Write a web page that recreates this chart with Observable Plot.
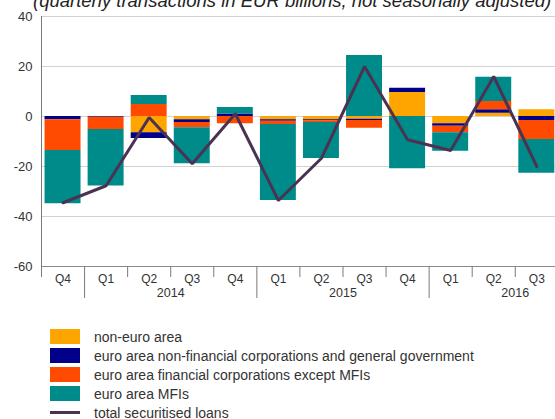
<!DOCTYPE html>
<html>
<head>
<meta charset="utf-8">
<script src="https://cdn.jsdelivr.net/npm/d3@7"></script>
<script src="https://cdn.jsdelivr.net/npm/@observablehq/plot@0.6"></script>
<style>
  html, body { margin: 0; padding: 0; background: #fff; overflow: hidden; }
  #wrap { position: relative; width: 555px; height: 419px; overflow: hidden; font-family: "Liberation Sans", Arial, Helvetica, sans-serif; }
  #chart { position: absolute; left: 0; top: 0; }
  #title { position: absolute; left: 33px; top: -8px; font-size: 18.5px; line-height: 18.5px; font-style: italic; color: #222; white-space: nowrap; }
  #legend { position: absolute; left: 50px; top: 327px; color: #333; font-size: 14px; }
  .row { display: flex; align-items: center; height: 19px; }
  .sw { width: 30px; height: 15px; margin-right: 14px; flex: none; }
  .ln { width: 30px; height: 3px; margin-right: 14px; flex: none; }
</style>
</head>
<body>
<div id="wrap">
  <div id="chart"></div>
  <div id="title">(quarterly transactions in EUR billions, not seasonally adjusted)</div>
  <div id="legend"></div>
</div>
<script>
// ---- data ----
const quarters = ["Q4","Q1","Q2","Q3","Q4","Q1","Q2","Q3","Q4","Q1","Q2","Q3"];
const years    = ["2013","2014","2014","2014","2014","2015","2015","2015","2015","2016","2016","2016"];
const yearLabels = ["2014","2015","2016"];
const series = [
  "non-euro area",
  "euro area non-financial corporations and general government",
  "euro area financial corporations except MFIs",
  "euro area MFIs"
];
const lineLabel = "total securitised loans";
const colors = ["#FFA500", "#000088", "#FF4B00", "#008B8B"];
const lineColor = "#4a3352";

const nonEuro = [0, 0, -6.5, -1.3, 0, -1.3, -1.3, -1.1, 9.6, -2.9, 1.3, 2.7];
const nfcGov  = [-1.3, -0.3, -2.3, -1.1, 1.0, -0.6, -0.4, -0.5, 1.7, -1.0, 1.4, -1.6];
const finCorp = [-12.3, -4.9, 4.8, -2.1, -2.9, -1.3, -0.7, -3.1, 0, -2.6, 3.3, -7.6];
const mfis    = [-21.3, -22.6, 3.6, -14.4, 2.6, -30.4, -14.4, 24.4, -20.9, -7.4, 9.7, -13.5];
const total   = [-34.5, -27.7, -0.4, -18.9, 1.1, -33.6, -16.7, 20.0, -9.3, -13.6, 16.0, -20.0];
const yTicks = [-60, -40, -20, 0, 20, 40];

// ---- derived table ----
const keys = quarters.map((q, i) => years[i] + q);
const rows = [];
[nonEuro, nfcGov, finCorp, mfis].forEach((arr, s) =>
  arr.forEach((v, i) => rows.push({key: keys[i], series: series[s], value: v})));

// layout
const x0 = 41, step = 43.07;
const xRange = [x0, x0 + step * keys.length];

const chart = Plot.plot({
  width: 555,
  height: 305,
  marginLeft: 41,
  marginRight: 0,
  marginTop: 16,
  marginBottom: 39,
  style: {fontFamily: "Liberation Sans, Arial, Helvetica, sans-serif", color: "#333", background: "transparent"},
  x: {type: "band", domain: keys, range: xRange, paddingInner: 0.165, paddingOuter: 0.0825, align: 0.5, round: false, axis: null},
  y: {domain: [-60, 40], range: [266, 16], axis: null},
  color: {domain: series, range: colors},
  marks: [
    Plot.gridY([-40, -20, 0, 20, 40], {stroke: "#d2d2d2", strokeOpacity: 1}),
    Plot.barY(rows, {x: "key", y: "value", fill: "series"}),
    Plot.ruleY([-60], {stroke: "#8a8a8a"}),
    // y axis line
    Plot.ruleX([keys[0]], {x: d => d, y1: 40, y2: -60, dx: -step / 2, insetBottom: -11, stroke: "#7a7a7a"}),
    // short ticks between quarters
    Plot.ruleX(keys.filter((k, i) => quarters[i] !== "Q1"), {x: d => d, y1: -60, y2: -60, dx: -step / 2, insetBottom: -11, stroke: "#7a7a7a"}),
    // long ticks at year starts
    Plot.ruleX(keys.filter((k, i) => quarters[i] === "Q1"), {x: d => d, y1: -60, y2: -60, dx: -step / 2, insetBottom: -32, stroke: "#7a7a7a"}),
    Plot.line(total, {x: (d, i) => keys[i], y: d => d, stroke: lineColor, strokeWidth: 3, strokeLinejoin: "miter"}),
    Plot.axisY(yTicks, {anchor: "left", tickSize: 0, tickPadding: 9, fontSize: 13, label: null, fill: "#333", tickFormat: d => String(d)}),
    Plot.axisX({anchor: "bottom", tickSize: 0, tickPadding: 8, fontSize: 12, label: null, tickFormat: k => k.slice(4), fill: "#333"}),
    Plot.text(yearLabels, {x: d => d + "Q2", frameAnchor: "bottom", lineAnchor: "top", dx: step / 2, dy: 22, text: d => d, fontSize: 12.5, fill: "#333"})
  ]
});
document.getElementById("chart").appendChild(chart);

// legend
const legend = document.getElementById("legend");
series.forEach((s, i) => {
  const r = document.createElement("div"); r.className = "row";
  const sw = document.createElement("div"); sw.className = "sw"; sw.style.background = colors[i];
  const t = document.createElement("span"); t.textContent = s;
  r.appendChild(sw); r.appendChild(t); legend.appendChild(r);
});
{
  const r = document.createElement("div"); r.className = "row";
  const sw = document.createElement("div"); sw.className = "ln"; sw.style.background = lineColor;
  const t = document.createElement("span"); t.textContent = lineLabel;
  r.appendChild(sw); r.appendChild(t); legend.appendChild(r);
}
</script>
</body>
</html>
